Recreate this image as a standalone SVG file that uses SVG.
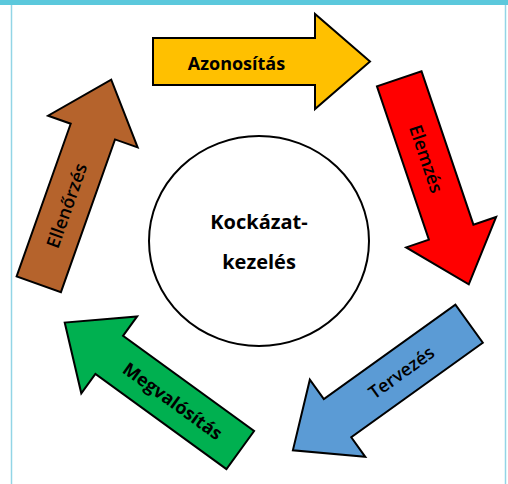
<svg xmlns="http://www.w3.org/2000/svg" width="508" height="484" viewBox="0 0 508 484">
  <style>
    .arrow { stroke: #000; stroke-width: 2; stroke-linejoin: miter; }
    .lbl { font-family: "Open Sans", "Liberation Sans", sans-serif; fill: #000; text-anchor: middle; }
    .reg { font-size: 18px; font-weight: 600; }
    .bold { font-size: 18px; font-weight: 700; }
    .center { font-family: "Open Sans", "Liberation Sans", sans-serif; font-size: 20px; font-weight: 700; fill: #000; text-anchor: middle; }
  </style>
  <defs>
    <path id="arrowShape" d="M-108.5,-23.5 H53.5 V-47.5 L108.5,0 L53.5,47.5 V23.5 H-108.5 Z"/>
  </defs>
  <rect x="0" y="0" width="508" height="484" fill="#fff"/>
  <g id="frame">
    <rect x="0" y="0" width="508" height="5" fill="#5BC8DC"/>
    <line x1="11.5" y1="5" x2="11.5" y2="484" stroke="#92D5E6" stroke-width="1.5"/>
    <line x1="505.5" y1="5" x2="505.5" y2="484" stroke="#92D5E6" stroke-width="1.5"/>
  </g>
  <g id="connectors"/>
  <g id="center-node">
    <ellipse cx="259" cy="241" rx="110" ry="105" fill="#fff" stroke="#000" stroke-width="2"/>
    <text class="center" x="259" y="229">Kockázat-</text>
    <text class="center" x="259" y="269">kezelés</text>
  </g>
  <g id="azonositas" transform="translate(261.5,61.5)">
    <use href="#arrowShape" class="arrow" fill="#FFC000"/>
    <text class="lbl bold" x="-25" y="8">Azonosítás</text>
  </g>
  <g id="elemzes" transform="translate(434,181.5) rotate(71.3)">
    <use href="#arrowShape" class="arrow" fill="#FF0000"/>
    <text class="lbl reg" x="-24" y="6.5">Elemzés</text>
  </g>
  <g id="tervezes" transform="translate(381,387) rotate(144.3)">
    <use href="#arrowShape" class="arrow" fill="#5B9BD5"/>
    <text class="lbl reg" transform="translate(-25,0) rotate(180)" x="0" y="6.5">Tervezés</text>
  </g>
  <g id="megvalositas" transform="translate(152.5,386.3) rotate(216)">
    <use href="#arrowShape" class="arrow" fill="#00B050"/>
    <text class="lbl bold" transform="translate(-25,0) rotate(180)" x="0" y="6.5">Megvalósítás</text>
  </g>
  <g id="ellenorzes" transform="translate(75,182) rotate(-70.5)">
    <use href="#arrowShape" class="arrow" fill="#B5632C"/>
    <text class="lbl reg" x="-25" y="6.5">Ellenőrzés</text>
  </g>
</svg>
